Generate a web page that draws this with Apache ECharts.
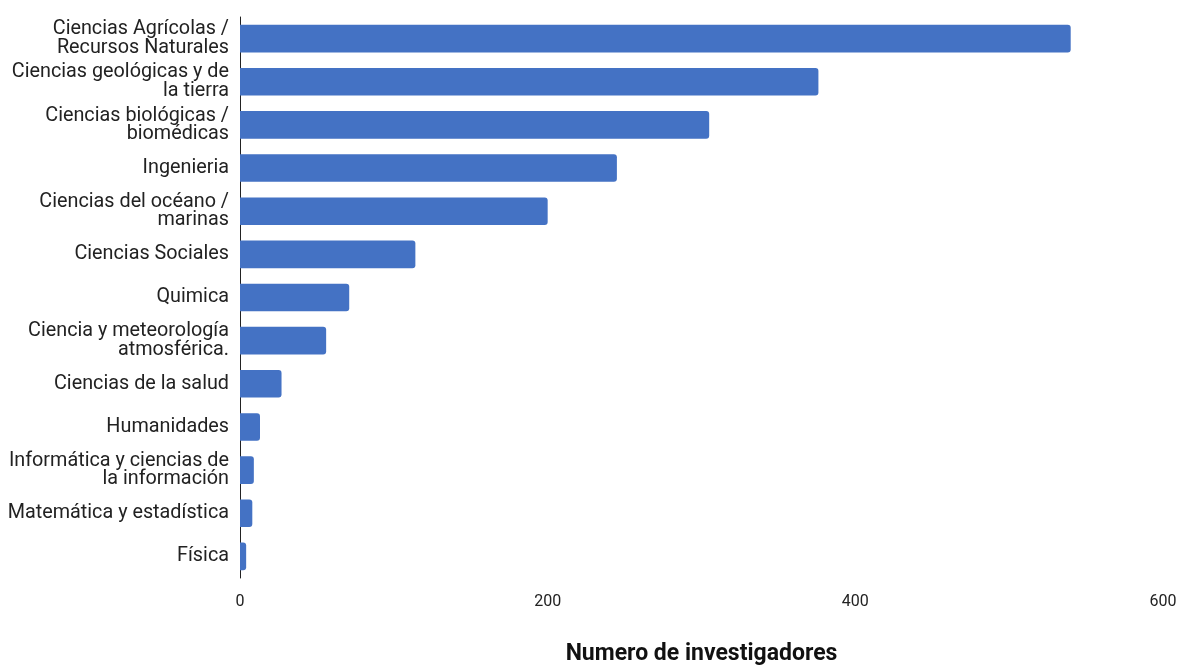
<!DOCTYPE html>
<html>
<head>
<meta charset="utf-8">
<script src="https://cdn.jsdelivr.net/npm/echarts@6/dist/echarts.min.js"></script>
<style>html,body{margin:0;padding:0;background:#fff}#c{width:1183px;height:671px}</style>
</head>
<body>
<div id="c"></div>
<script>
const categories = [
  "Ciencias Agrícolas /\nRecursos Naturales",
  "Ciencias geológicas y de\nla tierra",
  "Ciencias biológicas /\nbiomédicas",
  "Ingenieria",
  "Ciencias del océano /\nmarinas",
  "Ciencias Sociales",
  "Quimica",
  "Ciencia y meteorología\natmosférica.",
  "Ciencias de la salud",
  "Humanidades",
  "Informática y ciencias de\nla información",
  "Matemática y estadística",
  "Física"
];
const values = [540, 376, 305, 245, 200, 114, 71, 56, 27, 13, 9, 8, 4];
const xTicks = [0, 200, 400, 600];

const chart = echarts.init(document.getElementById('c'));
chart.setOption({
  animation: false,
  grid: { left: 240, right: 20, top: 17, bottom: 88, containLabel: false },
  xAxis: {
    type: 'value', min: xTicks[0], max: xTicks[xTicks.length - 1], interval: 200,
    axisLine: { show: false }, axisTick: { show: false }, splitLine: { show: false },
    axisLabel: { margin: 16, fontFamily: 'Roboto', fontSize: 16, color: '#222' },
    name: 'Numero de investigadores', nameLocation: 'middle', nameGap: 65,
    nameTextStyle: { fontFamily: 'Roboto', fontWeight: 'bold', fontSize: 23, color: '#111' }
  },
  yAxis: {
    type: 'category', data: categories, inverse: true,
    axisLine: { show: true, lineStyle: { color: '#222', width: 1 } },
    axisTick: { show: false },
    axisLabel: { margin: 11, fontFamily: 'Roboto', fontSize: 19.8, lineHeight: 18.5, color: '#222', align: 'right' }
  },
  series: [{
    type: 'bar', data: values, barCategoryGap: '36%',
    itemStyle: { color: '#4472C4', borderRadius: [0, 3, 3, 0] }
  }]
});
</script>
</body>
</html>
